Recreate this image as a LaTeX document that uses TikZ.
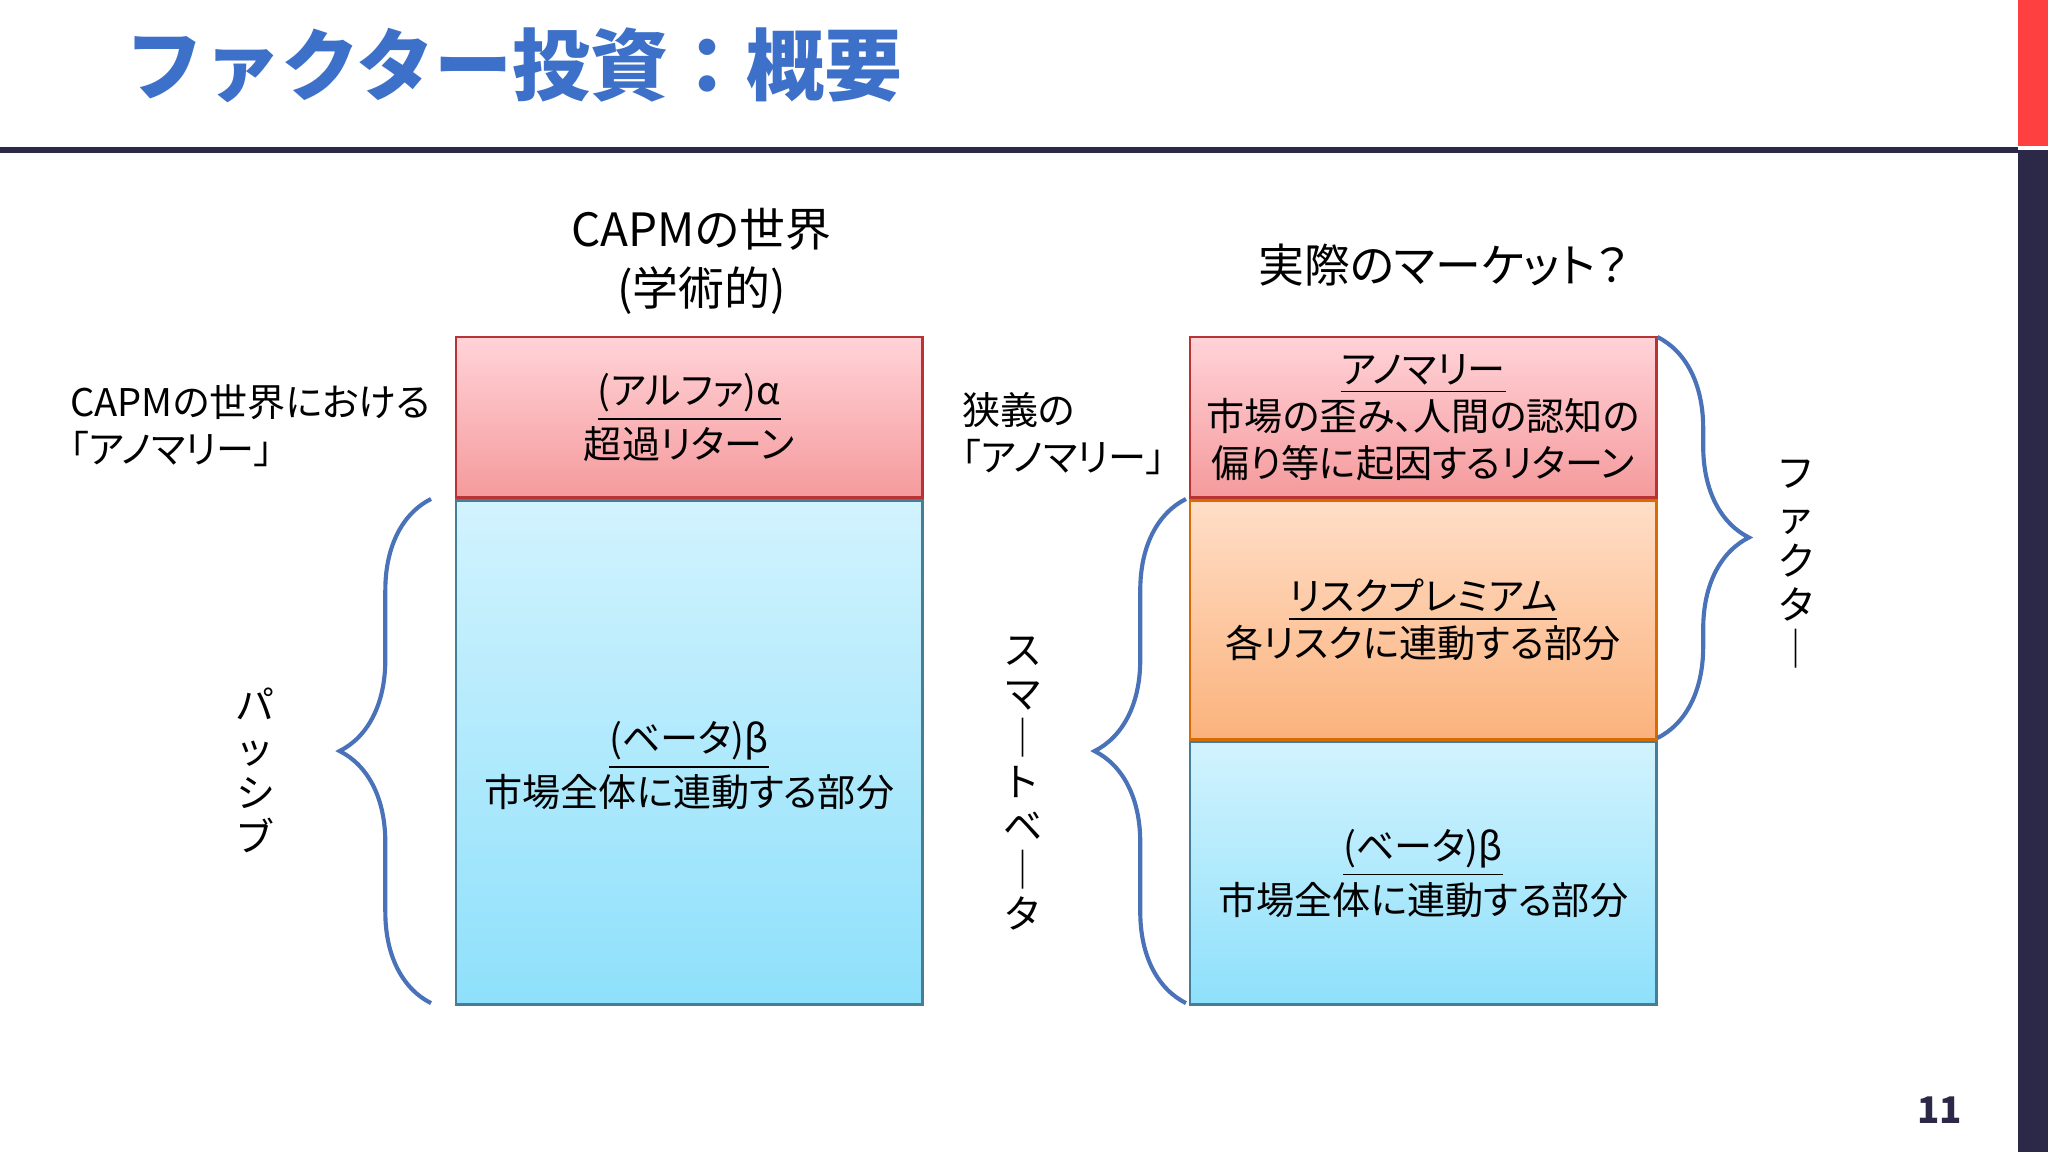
\documentclass[tikz,border=0pt]{standalone}
\usepackage{fontspec}
\setmainfont{Noto Sans CJK JP}[RawFeature=+palt]
\newfontfamily\ttlfont{Noto Sans CJK JP}
\usetikzlibrary{decorations.pathreplacing}
\definecolor{ttl}{HTML}{3D70C8}
\definecolor{brc}{HTML}{4A72B8}
\definecolor{navy}{HTML}{2B2848}
\definecolor{bt}{HTML}{D2F3FE}\definecolor{bb}{HTML}{8EE0FB}
\definecolor{rt}{HTML}{FFD3D8}\definecolor{rb}{HTML}{F59A9C}
\definecolor{ot}{HTML}{FFDEC8}\definecolor{ob}{HTML}{FBB27C}
\tikzset{
 box/.style={draw, line width=0.6pt, align=center, inner sep=0pt},
 redbox/.style={box, draw=red!65!black!80, top color=rt, bottom color=rb},
 bluebox/.style={box, draw=cyan!55!black, top color=bt, bottom color=bb},
 orbox/.style={box, draw=orange!85!black, top color=ot, bottom color=ob},
 br/.style={draw=brc, line width=0.9pt, decorate, decoration={brace, amplitude=0.7cm, aspect=0.5}},
 txt/.style={font=\fontsize{8.3}{10.2}\selectfont, align=center, inner sep=0pt},
 vtxt/.style={font=\fontsize{8.5}{9.6}\selectfont, align=center, inner sep=0pt}
}
\begin{document}
\begin{tikzpicture}
\useasboundingbox (0,0) rectangle (15.68,-8.82);
\fill[white] (0,0) rectangle (15.68,-8.82);
\fill[red!75!white] (15.45,0) rectangle (15.68,-1.12);
\fill[navy] (15.45,-1.15) rectangle (15.68,-8.82);
\draw[navy, line width=1.3pt] (0,-1.145) -- (15.45,-1.145);
\node[anchor=west, text=ttl, font=\ttlfont\fontsize{17}{20}\selectfont\bfseries, inner sep=0pt] (title) at (0.95,-0.5) {ファクター投資：概要};
\node[text=navy, font=\fontsize{8}{10}\selectfont\bfseries] (pg) at (14.85,-8.5) {11};
\node[txt, font=\fontsize{10}{12.8}\selectfont] (h1) at (5.37,-2.0) {CAPMの世界\\(学術的)};
\node[txt, font=\fontsize{10}{12.8}\selectfont] (h2) at (11.05,-2.03) {実際のマーケット？};
\node[redbox, minimum width=3.57cm, minimum height=1.23cm, anchor=north west] (a1) at (3.48,-2.57) {};
\node[txt] at (a1) {\underline{(アルファ)α}\\超過リターン};
\node[bluebox, minimum width=3.57cm, minimum height=3.86cm, anchor=north west] (b1) at (3.48,-3.82) {};
\node[txt] at ([yshift=-0.1cm]b1) {\underline{(ベータ)β}\\市場全体に連動する部分};
\node[redbox, minimum width=3.57cm, minimum height=1.23cm, anchor=north west] (a2) at (9.10,-2.57) {};
\node[txt] at (a2) {\underline{アノマリー}\\市場の歪み、人間の認知の\\偏り等に起因するリターン};
\node[orbox, minimum width=3.57cm, minimum height=1.83cm, anchor=north west] (r2) at (9.10,-3.82) {};
\node[txt] at (r2) {\underline{リスクプレミアム}\\各リスクに連動する部分};
\node[bluebox, minimum width=3.57cm, minimum height=2.01cm, anchor=north west] (b2) at (9.10,-5.67) {};
\node[txt] at (b2) {\underline{(ベータ)β}\\市場全体に連動する部分};
\node[txt, align=left, anchor=west] (l1) at (0.53,-3.26) {CAPMの世界における\\「アノマリー」};
\node[txt, align=left, anchor=west] (l2) at (7.36,-3.32) {狭義の\\「アノマリー」};
\coordinate (p1) at (3.30,-7.68); \coordinate (p2) at (3.30,-3.82);
\draw[br] (p1) -- (p2);
\coordinate (q1) at (9.08,-7.68); \coordinate (q2) at (9.08,-3.82);
\draw[br] (q1) -- (q2);
\coordinate (s1) at (12.69,-2.58); \coordinate (s2) at (12.69,-5.65);
\draw[br] (s1) -- (s2);
\node[vtxt] (v1) at (1.95,-5.9) {パ\\ッ\\シ\\ブ};
\node[vtxt] (v2) at (7.83,-6.0) {ス\\マ\\｜\\ト\\ベ\\｜\\タ};
\node[vtxt] (v3) at (13.75,-4.32) {フ\\ァ\\ク\\タ\\｜};
\end{tikzpicture}
\end{document}
